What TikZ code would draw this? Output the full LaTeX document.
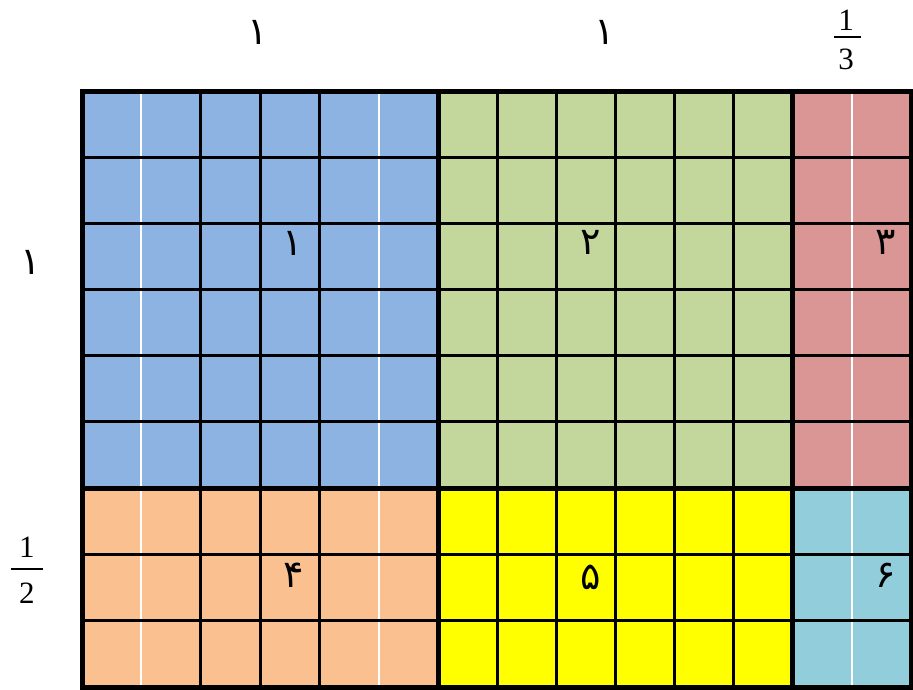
\documentclass[tikz,border=0pt]{standalone}
\usepackage{fontspec}
\newfontfamily\arabicfont[Script=Arabic]{DejaVu Sans}
\newfontfamily\fracfont{Liberation Serif}
\TeXXeTstate=1
\definecolor{cblue}{HTML}{8DB3E2}
\definecolor{cgreen}{HTML}{C3D69B}
\definecolor{cred}{HTML}{D99694}
\definecolor{corange}{HTML}{FAC090}
\definecolor{cyellow}{HTML}{FFFF00}
\definecolor{ccyan}{HTML}{92CDDC}
\begin{document}
\begin{tikzpicture}[x=1pt,y=-1pt,
  arlabel/.style={font=\arabicfont\fontsize{38}{40}\selectfont, inner sep=0pt, anchor=center},
  fracdigit/.style={font=\fracfont\fontsize{31}{32}\selectfont, inner sep=0pt, anchor=center},
  thinline/.style={black, line width=3pt},
  whiteline/.style={white, line width=2pt},
  thickline/.style={black, line width=5pt},
  fracbar/.style={black, line width=2.8pt}]
\useasboundingbox (0,0) rectangle (913,689);
% fills
\fill[cblue] (82,91) rectangle (438,488);
\fill[cgreen] (438,91) rectangle (792,488);
\fill[cred] (792,91) rectangle (911,488);
\fill[corange] (82,488) rectangle (438,687);
\fill[cyellow] (438,488) rectangle (792,687);
\fill[ccyan] (792,488) rectangle (911,687);
% grid lines
\foreach \x in {141.3,378.7,851.5} \draw[whiteline] (\x,91) -- (\x,687);
\foreach \x in {200.7,260,319.3,497,556,615,674,733} \draw[thinline] (\x,91) -- (\x,687);
\foreach \y in {157.2,223.3,289.5,355.7,421.8,554.3,620.7} \draw[thinline] (82,\y) -- (911,\y);
\draw[thickline] (438,91) -- (438,687);
\draw[thickline] (792,91) -- (792,687);
\draw[thickline] (82,488) -- (911,488);
\draw[thickline] (82,91) rectangle (911,687);
% top labels
\node[arlabel] (t1) at (258,32) {\beginR ۱\endR};
\node[arlabel] (t2) at (605,32) {\beginR ۱\endR};
\node[fracdigit] (tnum) at (846,20) {1};
\node[fracdigit] (tden) at (846,59) {3};
\draw[fracbar] (834,37) -- (861,37);
% left labels
\node[arlabel] (l1) at (31,262) {\beginR ۱\endR};
\node[fracdigit] (lnum) at (27,547) {1};
\node[fracdigit] (lden) at (27,593) {2};
\draw[fracbar] (11,569) -- (43,569);
% region labels
\node[arlabel] (r1) at (293,243) {\beginR ۱\endR};
\node[arlabel] (r2) at (591,242) {\beginR ۲\endR};
\node[arlabel] (r3) at (886,242) {\beginR ۳\endR};
\node[arlabel] (r4) at (294,575) {\beginR ۴\endR};
\node[arlabel] (r5) at (591,577) {\beginR ۵\endR};
\node[arlabel] (r6) at (886,575) {\beginR ۶\endR};
\end{tikzpicture}
\end{document}
